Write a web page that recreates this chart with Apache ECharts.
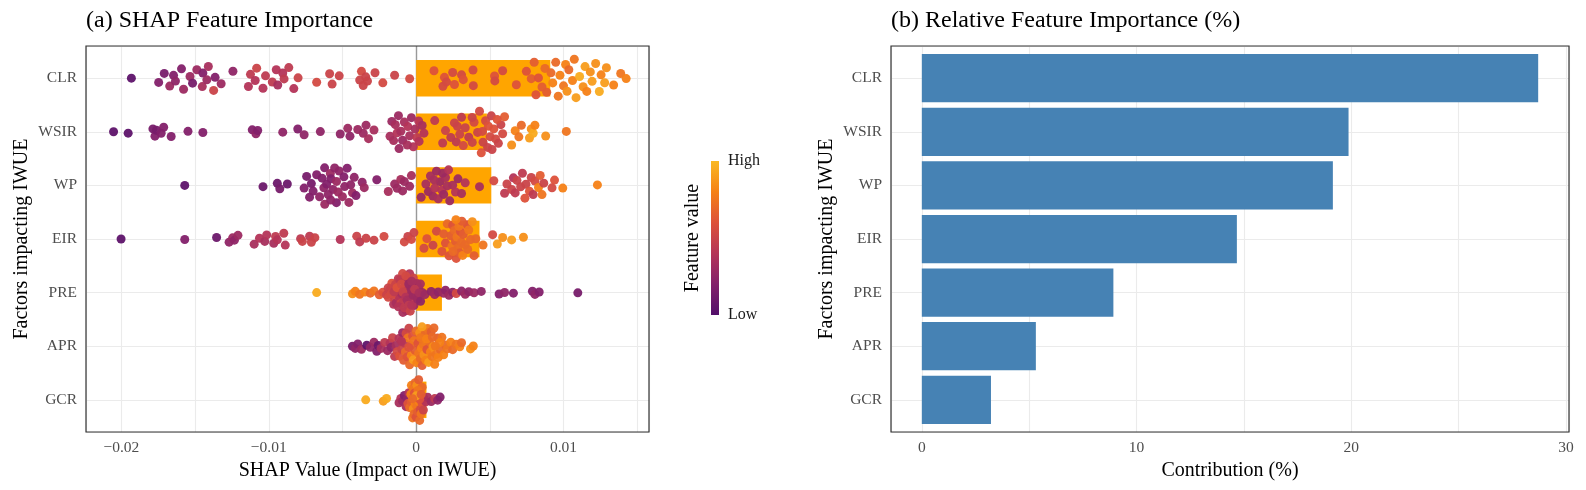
<!DOCTYPE html>
<html>
<head>
<meta charset="utf-8">
<title>SHAP Feature Importance</title>
<script src="https://cdn.jsdelivr.net/npm/echarts@6.0.0/dist/echarts.min.js"></script>
<style>
html, body { margin: 0; padding: 0; background: #fff; }
#chart { width: 1586px; height: 490px; }
</style>
</head>
<body>
<div id="chart"></div>
<script>
// 特征（自上而下）
var features = ['CLR', 'WSIR', 'WP', 'EIR', 'PRE', 'APR', 'GCR'];

// 每个点: [SHAP值, 特征值(0=Low, 1=High)]
var pointsCLR = [
  [-0.01932,0.05],[-0.01747,0.2],[-0.01709,0.15],[-0.01672,0.3],[-0.01646,0.2],[-0.01633,0.25],[-0.01592,0.2],[-0.01578,0.3],
  [-0.01534,0.3],[-0.01517,0.15],[-0.01488,0.3],[-0.01451,0.35],[-0.01447,0.2],[-0.0142,0.3],[-0.0141,0.35],[-0.01374,0.5],
  [-0.01364,0.2],[-0.01323,0.3],[-0.01243,0.25],
  [-0.01138,0.4],[-0.01124,0.45],[-0.01092,0.4],[-0.01082,0.5],[-0.01039,0.4],[-0.01022,0.45],[-0.00976,0.45],[-0.00949,0.4],
  [-0.00939,0.35],[-0.00905,0.4],[-0.00896,0.45],[-0.00864,0.45],[-0.0083,0.4],[-0.00801,0.5],
  [-0.00675,0.55],[-0.00587,0.5],[-0.0057,0.5],[-0.00522,0.5],[-0.00383,0.5],[-0.00371,0.55],[-0.00359,0.5],[-0.00342,0.5],
  [-0.0033,0.5],[-0.00279,0.5],[-0.00226,0.55],[-0.00146,0.5],[-0.00044,0.55],
  [0.00121,0.6],[0.00182,0.55],[0.00192,0.6],[0.00206,0.55],[0.00248,0.55],[0.0026,0.6],[0.00308,0.55],[0.0032,0.6],
  [0.00386,0.55],[0.00388,0.55],[0.00532,0.6],[0.00534,0.55],[0.00587,0.55],[0.0068,0.6],[0.00748,0.6],[0.00781,0.65],
  [0.00801,0.65],[0.00813,0.6],[0.0083,0.6],[0.00854,0.65],[0.00874,0.7],[0.00886,0.65],[0.00915,0.7],[0.00927,0.8],
  [0.00947,0.7],[0.00964,0.75],[0.00976,0.8],[0.01,0.75],[0.01014,0.8],[0.01024,0.85],[0.01036,0.7],[0.01061,0.8],
  [0.01073,0.75],[0.01085,0.9],[0.01109,0.95],[0.01133,0.85],[0.01146,0.9],[0.01158,0.8],[0.01182,0.85],[0.01194,0.9],
  [0.01218,0.85],[0.01243,0.95],[0.01255,0.8],[0.01279,0.9],[0.01291,0.85],[0.0134,0.8],[0.01388,0.75],[0.01425,0.8]
];
var pointsWSIR = [
  [-0.02053,0.05],[-0.01954,0.05],[-0.01786,0.15],[-0.01772,0.2],[-0.01762,0.15],[-0.0173,0.2],[-0.01713,0.2],[-0.01662,0.2],
  [-0.01548,0.2],[-0.01447,0.2],[-0.01112,0.2],[-0.01087,0.25],[-0.01075,0.2],[-0.00905,0.25],[-0.00803,0.2],[-0.0076,0.25],
  [-0.0065,0.25],[-0.00515,0.25],[-0.00464,0.3],[-0.00449,0.25],[-0.00396,0.3],[-0.00359,0.3],[-0.0034,0.3],[-0.00323,0.35],
  [-0.00286,0.35],
  [-0.00177,0.35],[-0.00165,0.3],[-0.00153,0.35],[-0.00141,0.35],[-0.00129,0.4],[-0.00116,0.3],[-0.00104,0.35],[-0.00092,0.3],
  [-0.0008,0.35],[-0.00056,0.4],[-0.00044,0.35],[-0.00032,0.3],[-0.00019,0.4],[-0.00007,0.35],[0.00005,0.45],[0.00017,0.4],
  [0.00041,0.35],[0.00053,0.4],[-0.0012,0.3],[-0.0006,0.35],[0.0002,0.4],
  [0.00126,0.45],[0.0018,0.45],[0.00199,0.5],[0.00235,0.45],[0.0026,0.5],[0.00272,0.45],[0.00296,0.5],[0.00308,0.45],
  [0.0032,0.55],[0.00333,0.5],[0.00357,0.45],[0.00381,0.5],[0.00393,0.55],[0.00417,0.5],[0.0043,0.55],[0.00442,0.6],
  [0.00454,0.5],[0.00471,0.55],[0.00485,0.5],[0.0049,0.6],[0.00502,0.55],[0.00515,0.5],[0.00527,0.6],[0.00539,0.55],
  [0.00558,0.5],[0.00575,0.5],[0.00587,0.55],[0.006,0.65],[0.0028,0.5],[0.0038,0.5],[0.0045,0.55],[0.0051,0.5],[0.0055,0.6],
  [0.00648,0.85],[0.00672,0.8],[0.00697,0.75],[0.00714,0.7],[0.00769,0.9],[0.00781,0.85],[0.00794,0.95],[0.00806,0.8],
  [0.00879,0.85],[0.01019,0.75]
];
var pointsWP = [
  [-0.0157,0.05],[-0.01039,0.1],[-0.00942,0.1],[-0.00925,0.15],[-0.00874,0.1],
  [-0.0076,0.2],[-0.00743,0.15],[-0.00723,0.2],[-0.00711,0.15],[-0.00699,0.2],[-0.00675,0.2],[-0.00655,0.25],[-0.00638,0.2],
  [-0.00626,0.25],[-0.00621,0.2],[-0.00607,0.2],[-0.00597,0.25],[-0.00582,0.3],[-0.00578,0.2],[-0.00565,0.25],[-0.00553,0.25],
  [-0.00541,0.2],[-0.00529,0.3],[-0.00522,0.25],[-0.005,0.3],[-0.00485,0.25],[-0.00468,0.2],[-0.00456,0.3],[-0.00444,0.25],
  [-0.00432,0.3],[-0.0042,0.25],[-0.00408,0.2],[-0.00366,0.25],[-0.00352,0.3],[-0.0062,0.3],[-0.0058,0.25],[-0.0054,0.3],
  [-0.0049,0.2],
  [-0.00267,0.2],[-0.00189,0.35],[-0.00146,0.3],[-0.00129,0.3],[-0.00104,0.35],[-0.00092,0.3],[-0.0008,0.3],[-0.00044,0.3],
  [-0.00032,0.35],
  [0.00034,0.3],[0.00066,0.35],[0.00083,0.3],[0.00097,0.35],[0.00114,0.3],[0.00126,0.4],[0.00138,0.3],[0.0015,0.35],
  [0.00163,0.3],[0.00175,0.4],[0.00187,0.3],[0.00199,0.35],[0.00211,0.35],[0.00228,0.3],[0.00248,0.35],[0.00267,0.4],
  [0.00284,0.3],[0.00308,0.35],[0.00333,0.4],[0.0043,0.35],[0.0012,0.35],[0.0018,0.3],[0.0022,0.4],
  [0.00527,0.55],[0.006,0.45],[0.00616,0.5],[0.00648,0.5],[0.0066,0.4],[0.00672,0.45],[0.00684,0.5],[0.00709,0.5],
  [0.00721,0.45],[0.00738,0.6],[0.00745,0.5],[0.00769,0.6],[0.00781,0.5],[0.00794,0.45],[0.00806,0.55],[0.0083,0.8],
  [0.00842,0.65],[0.00854,0.75],[0.00866,0.5],[0.00922,0.55],[0.00939,0.6],[0.00995,0.8],[0.0123,0.8]
];
var pointsEIR = [
  [-0.02002,0.05],[-0.0157,0.2],[-0.01354,0.1],[-0.01269,0.25],[-0.01245,0.3],[-0.01233,0.25],[-0.01209,0.3],[-0.01099,0.35],
  [-0.01063,0.4],[-0.01027,0.35],[-0.01014,0.4],[-0.00966,0.35],[-0.00954,0.45],[-0.00942,0.4],[-0.00898,0.45],[-0.00888,0.4],
  [-0.00784,0.45],[-0.00772,0.5],[-0.00723,0.45],[-0.00711,0.5],[-0.00687,0.5],[-0.00515,0.4],[-0.00403,0.5],[-0.00383,0.45],
  [-0.0034,0.5],[-0.00286,0.5],[-0.00218,0.55],[-0.0008,0.55],[-0.00056,0.5],[-0.00032,0.55],[-0.00015,0.5],
  [0.00053,0.55],[0.00073,0.6],[0.00114,0.5],[0.00138,0.55],[0.00175,0.6],[0.00187,0.65],[0.00199,0.6],[0.00211,0.7],
  [0.00223,0.6],[0.00235,0.65],[0.00243,0.75],[0.00248,0.6],[0.0026,0.7],[0.00267,0.65],[0.00272,0.6],[0.00277,0.75],
  [0.00284,0.7],[0.00296,0.65],[0.00301,0.6],[0.00308,0.7],[0.00316,0.8],[0.0032,0.65],[0.00333,0.7],[0.00345,0.6],
  [0.00357,0.75],[0.00369,0.7],[0.00381,0.85],[0.00393,0.65],[0.00405,0.7],[0.0025,0.7],[0.0029,0.75],[0.0031,0.65],
  [0.0035,0.7],[0.0027,0.8],
  [0.00454,0.75],[0.00519,0.55],[0.00551,0.9],[0.00587,0.85],[0.00648,0.9],[0.00728,0.85]
];
var pointsPRE = [
  [-0.00675,0.95],[-0.00432,0.85],[-0.00413,0.8],[-0.00383,0.75],[-0.00347,0.8],[-0.00311,0.7],[-0.00286,0.75],[-0.0025,0.65],
  [-0.00226,0.6],
  [-0.00201,0.5],[-0.00189,0.55],[-0.00177,0.45],[-0.00165,0.6],[-0.00153,0.4],[-0.00146,0.5],[-0.00136,0.35],[-0.00129,0.55],
  [-0.00121,0.45],[-0.00116,0.65],[-0.00112,0.4],[-0.00104,0.5],[-0.00097,0.35],[-0.00092,0.55],[-0.00087,0.45],[-0.0008,0.4],
  [-0.00073,0.5],[-0.00068,0.3],[-0.00061,0.45],[-0.00056,0.35],[-0.00049,0.55],[-0.00044,0.4],[-0.00039,0.3],[-0.00032,0.45],
  [-0.00024,0.35],[-0.00019,0.5],[-0.00015,0.3],[-0.00007,0.4],[0.00005,0.35],[0.00017,0.3],[0.00029,0.35],[0.00041,0.3],
  [-0.0019,0.5],[-0.0017,0.55],[-0.0015,0.45],[-0.0014,0.5],[-0.0013,0.6],[-0.0012,0.4],[-0.0011,0.45],[-0.001,0.55],
  [-0.0009,0.35],[-0.0009,0.5],[-0.0008,0.45],[-0.0007,0.4],[-0.0007,0.55],[-0.0006,0.35],[-0.0005,0.45],[-0.0005,0.3],
  [-0.0004,0.5],[-0.0003,0.35],[-0.0003,0.4],[-0.0002,0.3],[-0.0001,0.45],[0.0001,0.3],[0.0002,0.35],[0.0003,0.25],[0.0006,0.3],
  [0.00102,0.25],[0.00126,0.3],[0.0015,0.25],[0.00187,0.3],[0.00199,0.25],[0.00223,0.3],[0.00248,0.25],[0.00272,0.55],
  [0.00308,0.25],[0.00333,0.3],[0.00357,0.25],[0.00393,0.3],[0.00442,0.25],[0.00563,0.2],[0.006,0.25],[0.0066,0.2],
  [0.00789,0.2],[0.00806,0.25],[0.00835,0.2],[0.01097,0.15]
];
var pointsAPR = [
  [-0.00432,0.15],[-0.00413,0.25],[-0.00396,0.2],[-0.00371,0.3],[-0.00335,0.05],[-0.00311,0.25],[-0.00286,0.3],[-0.00267,0.2],
  [-0.00257,0.1],[-0.00238,0.35],[-0.00214,0.45],[-0.00194,0.3],[-0.00177,0.4],[-0.0017,0.25],[-0.0016,0.5],[-0.00146,0.45],
  [-0.00136,0.35],[-0.00129,0.55],[-0.00116,0.4],[-0.00112,0.6],[-0.00097,0.5],[-0.00092,0.3],[-0.00085,0.65],[-0.0008,0.45],
  [-0.00073,0.7],[-0.00068,0.55],[-0.00061,0.6],[-0.00056,0.75],[-0.00049,0.5],[-0.00044,0.7],[-0.00036,0.65],[-0.00032,0.8],
  [-0.00024,0.6],[-0.00019,0.9],[-0.00015,0.75],[-0.00007,0.65],[0,0.7],[0.00005,0.8],[0.00012,0.6],[0.00017,0.75],
  [0.00024,0.85],[0.00029,0.7],[0.00036,0.8],[0.00041,0.65],[0.00049,0.75],[0.00053,0.85],[0.00061,0.7],[0.00066,0.8],
  [0.00073,0.6],[0.00078,0.75],[0.00085,0.9],[0.0009,0.7],[0.00097,0.8],[0.00102,0.65],[0.00109,0.75],[0.00114,0.85],
  [0.00121,0.7],[0.00126,0.8],[0.00138,0.75],[0.00146,0.65],[0.0015,0.8],[0.00163,0.7],[0.00175,0.75],[0.00187,0.8],
  [0.00199,0.7],[0.00211,0.75],[0.00235,0.8],[0.00248,0.7],[0.00272,0.75],[0.00296,0.8],[0.00308,0.7],[0.00369,0.85],
  [0.00388,0.8],[-0.0005,0.6],[0.0003,0.75],[0.0007,0.8],[0.0011,0.7],[0.0016,0.8],[-0.001,0.4],[0.0013,0.75],[0.0004,0.9]
];
var pointsGCR = [
  [-0.00342,0.95],[-0.00223,0.9],[-0.00201,0.95],[-0.00116,0.35],[-0.00104,0.4],[-0.00092,0.3],[-0.0008,0.2],[-0.00068,0.35],
  [-0.00061,0.25],[-0.00056,0.6],[-0.00049,0.4],[-0.00044,0.7],[-0.00036,0.8],[-0.00032,0.65],[-0.00024,0.75],[-0.00019,0.85],
  [-0.00015,0.7],[-0.00007,0.8],[0,0.6],[0.00005,0.75],[0.0001,0.65],[0.00017,0.8],[0.00024,0.7],[0.00029,0.55],
  [0.00034,0.75],[0.00041,0.6],[0.00049,0.5],[0.00053,0.45],[0.00066,0.4],[0.00078,0.35],[0.00102,0.3],[0.00126,0.45],
  [0.00146,0.25],[0.00163,0.2],
  [-0.00032,0.8],[-0.00019,0.75],[-0.00007,0.7],[0.00005,0.85],[0.00017,0.65],[0.00029,0.8],[0.00041,0.7],[-0.00012,0.6],
  [0.00012,0.75],[0.00024,0.6],[0,0.9],[-0.00024,0.7],[0.00034,0.65]
];
var pointRows = [pointsCLR, pointsWSIR, pointsWP, pointsEIR, pointsPRE, pointsAPR, pointsGCR];

// 平均SHAP（橙色条）
var meanShap = [0.0091, 0.0048, 0.0051, 0.0043, 0.00175, 0.0010, 0.0007];
// 相对重要性 (%)
var contribution = [28.7, 19.87, 19.14, 14.67, 8.92, 5.31, 3.22];
// 特征值颜色 Low -> High
var featureColors = ['#520f6a', '#83206a', '#b43458', '#dd513a', '#f58116', '#fab922'];

var FONT = '"Liberation Serif", "Times New Roman", serif';
var GRID_LINE = {lineStyle: {color: '#EBEBEB', width: 1.1}};

// 行位置：CLR 在最上面
function rowOf(i){
	return features.length - i;
}

function quantile(sorted, p){
	var h = (sorted.length - 1) * p, lo = Math.floor(h);
	var hi = Math.min(lo + 1, sorted.length - 1);
	return sorted[lo] + (h - lo) * (sorted[hi] - sorted[lo]);
}

// bw.nrd0
function bandwidth(xs){
	var n = xs.length, m = 0, s = 0;
	xs.forEach(function(x){ m += x; });
	m /= n;
	xs.forEach(function(x){ s += (x - m) * (x - m); });
	s = Math.sqrt(s / (n - 1));
	var sorted = xs.slice().sort(function(a, b){ return a - b; });
	var iqr = quantile(sorted, 0.75) - quantile(sorted, 0.25);
	var lo = Math.min(s, iqr / 1.34) || s;
	return 0.9 * lo * Math.pow(n, -0.2);
}

function vdc(i){
	var v = 0, d = 0.5;
	while (i > 0) {
		if (i & 1) v += d;
		i >>= 1;
		d /= 2;
	}
	return v;
}

/**
 * quasirandom 布局（类似 ggbeeswarm）
 * @param pts 点
 * @param row 行位置
 */
function quasirandom(pts, row){
	var xs = pts.map(function(p){ return p[0]; });
	var bw = bandwidth(xs) * 0.5;
	var dens = xs.map(function(x){
		var d = 0;
		xs.forEach(function(xi){ var z = (x - xi) / bw; d += Math.exp(-0.5 * z * z); });
		return d;
	});
	var maxD = Math.max.apply(null, dens);
	var order = xs.map(function(x, i){ return i; }).sort(function(a, b){ return xs[a] - xs[b]; });
	var off = [];
	order.forEach(function(idx, rank){
		off[idx] = (vdc(rank + 1) - 0.5) * 2 * 0.4 * dens[idx] / maxD;
	});
	return pts.map(function(p, i){ return [p[0], row + off[i], p[1]]; });
}

var scatterData = [];
pointRows.forEach(function(pts, i){
	scatterData = scatterData.concat(quasirandom(pts, rowOf(i)));
});
var shapBars = meanShap.map(function(v, i){ return [v, rowOf(i)]; });
var contribBars = contribution.map(function(v, i){ return [v, rowOf(i)]; });

function barRenderer(thickness, color){
	return function(params, api){
		var v = api.value(0), y = api.value(1);
		var a = api.coord([0, y + thickness / 2]);
		var b = api.coord([v, y - thickness / 2]);
		return {
			type: 'rect',
			shape: {x: a[0], y: a[1], width: b[0] - a[0], height: b[1] - a[1]},
			style: {fill: color}
		};
	};
}

function isMultiple(v, step){
	return Math.abs(v / step - Math.round(v / step)) < 1e-6;
}
function shapLabel(v){
	if (!isMultiple(v, 0.01)) return '';
	var k = Math.round(v * 100);
	if (k === 0) return '0';
	return (k < 0 ? '\u2212' : '') + (Math.abs(k) / 100);
}
function contribLabel(v){
	return isMultiple(v, 10) ? String(Math.round(v)) : '';
}
function rowLabel(v){
	if (!isMultiple(v, 1)) return '';
	var i = features.length - Math.round(v);
	return features[i] || '';
}

var tickLabel = {color: '#4D4D4D', fontSize: 15.5, fontFamily: FONT};
var axisTitle = {color: '#000', fontSize: 20, fontFamily: FONT};

function yAxisFor(gridIndex){
	return {
		gridIndex: gridIndex, type: 'value', min: 0.4, max: 7.6, splitNumber: 7,
		axisLine: {show: false}, axisTick: {show: false}, splitLine: GRID_LINE,
		axisLabel: Object.assign({formatter: rowLabel, margin: 9}, tickLabel),
		name: 'Factors impacting IWUE', nameLocation: 'middle', nameGap: 54,
		nameTextStyle: axisTitle
	};
}

var chart = echarts.init(document.getElementById('chart'));
var legendGradient = new echarts.graphic.LinearGradient(0, 0, 0, 1,
	featureColors.slice().reverse().map(function(c, i){
		return {offset: i / (featureColors.length - 1), color: c};
	}));

var option = {
	animation: false,
	backgroundColor: '#fff',
	title: [
		{text: '(a) SHAP Feature Importance', left: 86, top: 9, padding: 0,
			textStyle: {fontSize: 24, fontWeight: 'normal', color: '#000', fontFamily: FONT}},
		{text: '(b) Relative Feature Importance (%)', left: 891, top: 9, padding: 0,
			textStyle: {fontSize: 24, fontWeight: 'normal', color: '#000', fontFamily: FONT}}
	],
	grid: [
		{left: 86, right: 937, top: 46, bottom: 58},
		{left: 891, right: 17, top: 46, bottom: 58}
	],
	xAxis: [
		{
			gridIndex: 0, type: 'value', min: -0.0224, max: 0.0158, splitNumber: 8,
			axisLine: {show: false}, axisTick: {show: false}, splitLine: GRID_LINE,
			axisLabel: Object.assign({formatter: shapLabel, margin: 8}, tickLabel),
			name: 'SHAP Value (Impact on IWUE)', nameLocation: 'middle', nameGap: 25,
			nameTextStyle: axisTitle
		},
		{
			gridIndex: 1, type: 'value', min: -1.435, max: 30.135, splitNumber: 6,
			axisLine: {show: false}, axisTick: {show: false}, splitLine: GRID_LINE,
			axisLabel: Object.assign({formatter: contribLabel, margin: 8}, tickLabel),
			name: 'Contribution (%)', nameLocation: 'middle', nameGap: 25,
			nameTextStyle: axisTitle
		}
	],
	yAxis: [yAxisFor(0), yAxisFor(1)],
	visualMap: {
		type: 'continuous', show: false, seriesIndex: 1, dimension: 2,
		min: 0, max: 1, inRange: {color: featureColors}
	},
	series: [
		{
			name: 'mean SHAP', type: 'custom', xAxisIndex: 0, yAxisIndex: 0, z: 2,
			renderItem: barRenderer(0.68, '#FFA500'),
			encode: {x: 0, y: 1},
			data: shapBars,
			markLine: {
				silent: true, z: 1, symbol: ['none', 'none'], label: {show: false},
				lineStyle: {color: '#999999', width: 1.4, type: 'solid'},
				data: [{xAxis: 0}]
			}
		},
		{
			name: 'SHAP', type: 'scatter', xAxisIndex: 0, yAxisIndex: 0, z: 3,
			symbolSize: 9,
			itemStyle: {opacity: 0.95},
			data: scatterData
		},
		{
			name: 'Contribution', type: 'custom', xAxisIndex: 1, yAxisIndex: 1, z: 2,
			renderItem: barRenderer(0.9, '#4682B4'),
			encode: {x: 0, y: 1},
			data: contribBars
		}
	],
	graphic: [
		// 面板边框
		{type: 'rect', z: 100, silent: true, shape: {x: 86, y: 46, width: 563, height: 386},
			style: {fill: 'none', stroke: '#333', lineWidth: 1.2}},
		{type: 'rect', z: 100, silent: true, shape: {x: 891, y: 46, width: 678, height: 386},
			style: {fill: 'none', stroke: '#333', lineWidth: 1.2}},
		// 颜色图例
		{type: 'rect', z: 100, silent: true, shape: {x: 711, y: 161, width: 8, height: 154},
			style: {fill: legendGradient}},
		{type: 'text', z: 100, silent: true, x: 728, y: 161,
			style: {text: 'High', fill: '#1a1a1a', fontSize: 16, fontFamily: FONT, align: 'left', verticalAlign: 'middle'}},
		{type: 'text', z: 100, silent: true, x: 728, y: 315,
			style: {text: 'Low', fill: '#1a1a1a', fontSize: 16, fontFamily: FONT, align: 'left', verticalAlign: 'middle'}},
		{type: 'text', z: 100, silent: true, x: 693, y: 238, rotation: Math.PI / 2,
			style: {text: 'Feature value', fill: '#000', fontSize: 20, fontFamily: FONT, align: 'center', verticalAlign: 'middle'}}
	]
};
chart.setOption(option);
</script>
</body>
</html>
